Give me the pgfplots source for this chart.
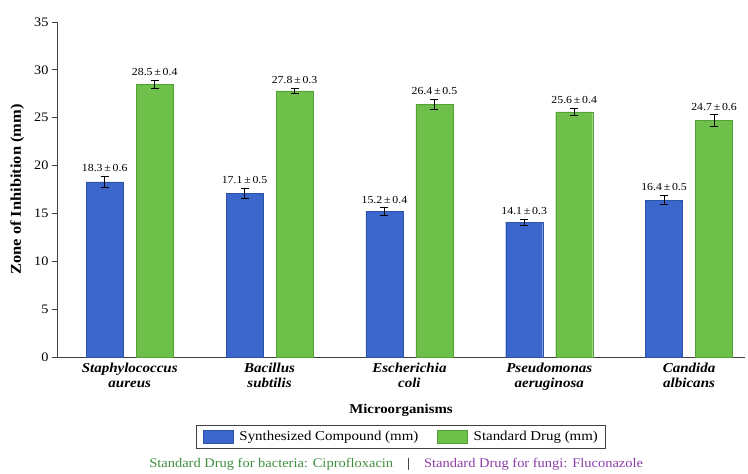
\documentclass[border=0pt]{standalone}
\usepackage{fontspec}
\setmainfont[FakeStretch=1.1]{Liberation Serif}
\usepackage{pgfplots}
\usepackage{pgfplotstable}
\pgfplotsset{compat=1.18}

\definecolor{synblue}{HTML}{3B66CC}
\definecolor{synedge}{HTML}{2C52A8}
\definecolor{stdgreen}{HTML}{6EC04A}
\definecolor{stdedge}{HTML}{55A036}
\definecolor{axisgray}{HTML}{404040}
\definecolor{bactgreen}{HTML}{3E8E3E}
\definecolor{fungpurple}{HTML}{8E3CA8}

% zone of inhibition (mm): mean and standard deviation
\pgfplotstableread{
x syn synerr std stderr
0 18.3 0.6 28.5 0.4
1 17.1 0.5 27.8 0.3
2 15.2 0.4 26.4 0.5
3 14.1 0.3 25.6 0.4
4 16.4 0.5 24.7 0.6
}\zonedata

\begin{document}
\begin{tikzpicture}[x=1bp,y=1bp]
\begin{axis}[
  at={(0,0)}, anchor=south west,
  scale only axis,
  width=688bp, height=335bp,
  ybar,
  bar width=37bp,
  xmin=-0.52, xmax=4.4,
  ymin=0, ymax=35,
  ytick={0,5,...,35},
  xtick=data,
  xticklabels={
    {\textbf{\textit{Staphylococcus}}\\\textbf{\textit{aureus}}},
    {\textbf{\textit{Bacillus}}\\\textbf{\textit{subtilis}}},
    {\textbf{\textit{Escherichia}}\\\textbf{\textit{coli}}},
    {\textbf{\textit{Pseudomonas}}\\\textbf{\textit{aeruginosa}}},
    {\textbf{\textit{Candida}}\\\textbf{\textit{albicans}}}},
  xticklabel style={align=center, font=\fontsize{13.7}{15}\selectfont, yshift=2bp},
  yticklabel style={font=\fontsize{13}{14}\selectfont},
  /pgf/number format/assume math mode=true,
  axis x line=bottom, axis y line=left,
  axis line style={-, draw=axisgray, line width=0.9pt},
  major x tick style={draw=none},
  major y tick style={draw=axisgray, line width=0.8pt},
  tick align=outside,
  major tick length=5bp,
  xlabel={\textbf{Microorganisms}},
  xlabel style={font=\fontsize{13.5}{15}\selectfont, at={(axis description cs:0.5,-0.158)}, anchor=center},
  ylabel={\textbf{Zone of Inhibition (mm)}},
  ylabel style={font=\fontsize{15}{16}\selectfont, at={(axis description cs:-0.058,0.5)}, anchor=center},
  legend style={
    at={(axis description cs:0.5,-0.203)}, anchor=north,
    legend columns=2, draw=axisgray, line width=0.8pt,
    font=\fontsize{13.6}{15}\selectfont,
    inner xsep=6bp, inner ysep=4.5bp,
    nodes={inner sep=1.5bp}},
  legend image code/.code={
    \draw[#1, line width=0.4pt] (0bp,-6.5bp) rectangle (30bp,6.5bp);
    \path (35bp,0bp);},
  nodes near coords={\pgfmathprintnumber[fixed,fixed zerofill,precision=1]{\pgfplotspointmeta}\,±\,\err},
  nodes near coords align={vertical},
  every node near coord/.append style={font=\fontsize{10.8}{12}\selectfont, color=black,
    shift={(axis direction cs:0,\err)}, yshift=1bp},
  point meta=y,
  clip=false,
]
\addplot[fill=synblue, draw=synedge, line width=0.4pt, bar shift=-25bp,
  visualization depends on={\thisrow{synerr}\as\err},
  error bars/.cd, y dir=both, y explicit,
  error bar style={black, line width=0.8pt},
  error mark options={rotate=90, mark size=4bp, black, line width=0.8pt}]
  table[x=x, y=syn, y error=synerr]{\zonedata};
\addlegendentry{Synthesized Compound (mm)\rule{17bp}{0pt}}
\addplot[fill=stdgreen, draw=stdedge, line width=0.4pt, bar shift=25bp,
  visualization depends on={\thisrow{stderr}\as\err},
  error bars/.cd, y dir=both, y explicit,
  error bar style={black, line width=0.8pt},
  error mark options={rotate=90, mark size=4bp, black, line width=0.8pt}]
  table[x=x, y=std, y error=stderr]{\zonedata};
\addlegendentry{Standard Drug (mm)}
\node[font=\fontsize{13.2}{14}\selectfont, anchor=center] at (axis description cs:0.493,-0.319)
  {\textcolor{bactgreen}{Standard Drug for bacteria: Ciprofloxacin}\hspace{14bp}\textcolor{black}{|}\hspace{14bp}\textcolor{fungpurple}{Standard Drug for fungi: Fluconazole}};
\end{axis}
% page frame
\path (-57bp,-114bp) rectangle (691bp,357bp);
\end{tikzpicture}
\end{document}
